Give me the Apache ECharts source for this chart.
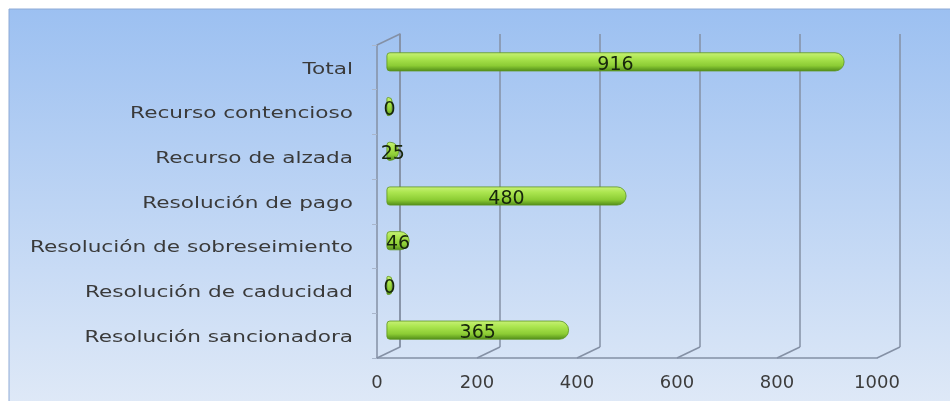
<!DOCTYPE html>
<html>
<head>
<meta charset="utf-8">
<script src="https://cdn.jsdelivr.net/npm/echarts@6/dist/echarts.min.js"></script>
<style>
html,body{margin:0;padding:0;background:#fff;}
#chart{width:950px;height:401px;}
</style>
</head>
<body>
<div id="chart"></div>
<script>
// ---- data ----
var categories = ['Total', 'Recurso contencioso', 'Recurso de alzada', 'Resolución de pago',
  'Resolución de sobreseimiento', 'Resolución de caducidad', 'Resolución sancionadora'];
var values = [916, 0, 25, 480, 46, 0, 365];
var xTicks = [0, 200, 400, 600, 800, 1000];
var xMin = 0, xMax = 1000, xStep = 200;

// ---- 3D depth offsets (style) ----
var DX = 23, DY = -11;
var gridW = 500, gridH = 313;
var frontLeft = 377, frontTop = 45;

var chart = echarts.init(document.getElementById('chart'), null, {renderer: 'canvas'});
var font = 'DejaVu Sans';
var lineColor = '#8490a5';

var option = {
  animation: false,
  graphic: [{
    type: 'rect', z: -10, silent: true,
    shape: {x: 9, y: 9, width: 945, height: 396},
    style: {
      fill: new echarts.graphic.LinearGradient(0, 0, 0, 1, [
        {offset: 0, color: '#9cc0f1'},
        {offset: 1, color: '#dfe9f7'}
      ]),
      stroke: '#8eaad6', lineWidth: 1
    }
  }],
  grid: [
    {left: frontLeft, top: frontTop, width: gridW, height: gridH},
    {left: frontLeft + DX / 2 - 2, top: frontTop + DY / 2, width: gridW, height: gridH},
    {left: frontLeft + DX, top: frontTop + DY, width: gridW, height: gridH}
  ],
  xAxis: [
    {gridIndex: 0, type: 'value', min: xMin, max: xMax, interval: xStep,
      axisLine: {show: true, lineStyle: {color: lineColor, width: 1.5}},
      axisTick: {show: false}, splitLine: {show: false},
      axisLabel: {color: '#3c3c3c', fontSize: 18, fontFamily: font, margin: 16,
        formatter: function (v) { return String(v); }}},
    {gridIndex: 1, type: 'value', min: xMin, max: xMax, interval: xStep, show: false},
    {gridIndex: 2, type: 'value', min: xMin, max: xMax, interval: xStep,
      axisLine: {show: false}, axisTick: {show: false}, axisLabel: {show: false},
      splitLine: {show: true, lineStyle: {color: lineColor, width: 1.5}}}
  ],
  yAxis: [
    {gridIndex: 0, type: 'category', data: categories, inverse: true,
      axisLine: {show: true, lineStyle: {color: lineColor, width: 1.5}},
      axisTick: {show: true, length: 5, lineStyle: {color: '#a9b6cb'}},
      axisLabel: {show: false}},
    {gridIndex: 1, type: 'category', data: categories, inverse: true, show: false},
    {gridIndex: 2, type: 'category', data: categories, inverse: true,
      axisLine: {show: true, lineStyle: {color: lineColor, width: 1.5}},
      axisTick: {show: false}, axisLabel: {show: false}, splitLine: {show: false}}
  ],
  series: [
    {
      type: 'custom', xAxisIndex: 0, yAxisIndex: 0, z: 1, silent: true, clip: false,
      data: xTicks.map(function (t) { return [t]; }),
      renderItem: function (params, api) {
        var cs = params.coordSys;
        var x = api.coord([api.value(0), 0])[0];
        var yb = cs.y + cs.height;
        var children = [{
          type: 'line',
          shape: {x1: x, y1: yb, x2: x + DX, y2: yb + DY},
          style: {stroke: lineColor, lineWidth: 1.5}
        }];
        if (params.dataIndex === 0) {
          children.push({
            type: 'line',
            shape: {x1: x, y1: cs.y, x2: x + DX, y2: cs.y + DY},
            style: {stroke: lineColor, lineWidth: 1.5}
          });
        }
        return {type: 'group', children: children};
      }
    },
    {
      // category labels (horizontally widened text like the original)
      type: 'custom', xAxisIndex: 0, yAxisIndex: 0, z: 3, silent: true, clip: false,
      data: categories.map(function (c, i) { return [0, i]; }),
      renderItem: function (params, api) {
        var cs = params.coordSys;
        var p = api.coord([0, api.value(1)]);
        return {
          type: 'text',
          x: cs.x - 24, y: p[1] + 2,
          scaleX: 1.35, scaleY: 1,
          style: {
            text: categories[params.dataIndex],
            x: 0, y: 0,
            align: 'right', verticalAlign: 'middle',
            fill: '#3a3a3a', fontSize: 16, fontFamily: font
          }
        };
      }
    },
    {
      type: 'bar', xAxisIndex: 1, yAxisIndex: 1, z: 5,
      data: values,
      barWidth: 19, barMinHeight: 6,
      itemStyle: {
        color: new echarts.graphic.LinearGradient(0, 0, 0, 1, [
          {offset: 0, color: '#c9f178'},
          {offset: 0.3, color: '#ace650'},
          {offset: 0.7, color: '#8ccc34'},
          {offset: 1, color: '#4f8a18'}
        ]),
        borderRadius: [3, 9, 9, 3],
        borderColor: '#5d9620', borderWidth: 0.8
      },
      label: {
        show: true, position: 'inside', offset: [0, 3],
        color: '#17260c', fontSize: 19, fontFamily: font
      }
    }
  ]
};
chart.setOption(option);
</script>
</body>
</html>
